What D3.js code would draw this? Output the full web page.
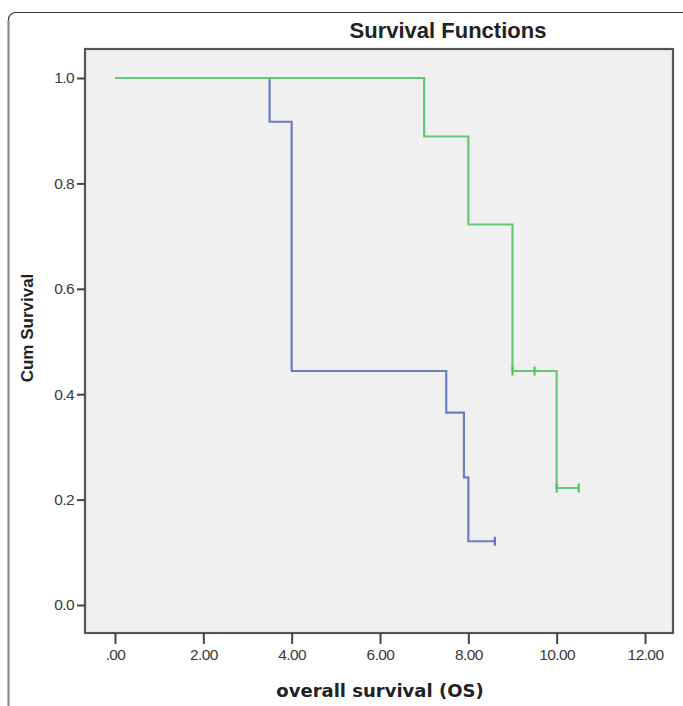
<!DOCTYPE html>
<html>
<head>
<meta charset="utf-8">
<script src="https://cdn.jsdelivr.net/npm/d3@7"></script>
<style>
  body { margin: 0; background: #fff; }
  svg { display: block; }
</style>
</head>
<body>
<script>
// data: Kaplan-Meier steps (time, cum survival) for the two groups
var blueTimes = [0, 3.5, 4.0, 7.5, 7.9, 8.0, 8.6];
var blueSurv = [1.0, 0.917, 0.444, 0.365, 0.242, 0.121, 0.121];
var blueCensorTimes = [8.6];
var blueCensorSurv = [0.121];

var greenTimes = [0, 7.0, 8.0, 9.0, 10.0, 10.5];
var greenSurv = [1.0, 0.889, 0.722, 0.444, 0.222, 0.222];
var greenCensorTimes = [9.0, 9.5, 10.0, 10.5];
var greenCensorSurv = [0.444, 0.444, 0.222, 0.222];

var xTicks = [0, 2, 4, 6, 8, 10, 12];
var yTicks = [0, 0.2, 0.4, 0.6, 0.8, 1.0];

// svg container
var width = 683;
var height = 706;

// plot frame
var frame = { left: 85, top: 49, right: 673, bottom: 633 };

var svg = d3.select("body").append("svg")
    .attr("width", width)
    .attr("height", height);

// outer rounded border (cropped on right and bottom)
svg.append("rect")
    .attr("x", 8.5)
    .attr("y", 12.5)
    .attr("width", 700)
    .attr("height", 720)
    .attr("rx", 7)
    .attr("fill", "none")
    .attr("stroke", "#333")
    .attr("stroke-width", 1.2);
svg.append("line")
    .attr("x1", 8.5).attr("x2", 8.5)
    .attr("y1", 20).attr("y2", height)
    .attr("stroke", "#888")
    .attr("stroke-width", 2);

// scales
var xScale = d3.scaleLinear()
    .domain([0, 12])
    .range([115, 645]);

var yScale = d3.scaleLinear()
    .domain([0, 1])
    .range([605, 78]);

// plot background
svg.append("rect")
    .attr("x", frame.left)
    .attr("y", frame.top)
    .attr("width", frame.right - frame.left)
    .attr("height", frame.bottom - frame.top)
    .attr("fill", "#f0f0f0")
    .attr("stroke", "#555")
    .attr("stroke-width", 2.2);

// axes
var xAxis = d3.axisBottom(xScale)
    .tickValues(xTicks)
    .tickSize(11)
    .tickPadding(5)
    .tickFormat(d => d === 0 ? ".00" : d3.format(".2f")(d));

var yAxis = d3.axisLeft(yScale)
    .tickValues(yTicks)
    .tickSize(8)
    .tickPadding(3)
    .tickFormat(d3.format(".1f"));

var xg = svg.append("g")
    .attr("transform", `translate(0, ${frame.bottom})`)
    .call(xAxis);

var yg = svg.append("g")
    .attr("transform", `translate(${frame.left}, 0)`)
    .call(yAxis);

[xg, yg].forEach(function(g) {
  g.select(".domain").remove();
  g.selectAll(".tick line").attr("stroke", "#444").attr("stroke-width", 2);
  g.selectAll(".tick text")
      .attr("fill", "#3a3a3a")
      .style("font-family", "'Liberation Sans', Arial, sans-serif")
      .style("font-size", "15.5px")
      .style("letter-spacing", "-0.6px");
});

// step lines
var line = d3.line()
    .x(d => xScale(d[0]))
    .y(d => yScale(d[1]))
    .curve(d3.curveStepAfter);

var blueData = blueTimes.map((t, i) => [t, blueSurv[i]]);
var greenData = greenTimes.map((t, i) => [t, greenSurv[i]]);

svg.append("path")
    .datum(blueData)
    .attr("d", line)
    .attr("fill", "none")
    .attr("stroke", "#6b7ec4")
    .attr("stroke-width", 2.2);

svg.append("path")
    .datum(greenData)
    .attr("d", line)
    .attr("fill", "none")
    .attr("stroke", "#63c973")
    .attr("stroke-width", 2.2);

// censor marks
function censors(times, surv, color) {
  svg.selectAll(null)
      .data(times.map((t, i) => [t, surv[i]]))
      .enter()
      .append("line")
      .attr("x1", d => xScale(d[0]))
      .attr("x2", d => xScale(d[0]))
      .attr("y1", d => yScale(d[1]) - 4.5)
      .attr("y2", d => yScale(d[1]) + 4.5)
      .attr("stroke", color)
      .attr("stroke-width", 2);
}
censors(blueCensorTimes, blueCensorSurv, "#5668b8");
censors(greenCensorTimes, greenCensorSurv, "#4fbf60");

// titles
svg.append("text")
    .attr("x", 448)
    .attr("y", 38)
    .attr("text-anchor", "middle")
    .style("font-family", "'Liberation Sans', Arial, sans-serif")
    .style("font-weight", "bold")
    .style("font-size", "22px")
    .attr("fill", "#222")
    .text("Survival Functions");

svg.append("text")
    .attr("x", 380)
    .attr("y", 697)
    .attr("text-anchor", "middle")
    .style("font-family", "'DejaVu Sans', sans-serif")
    .style("font-weight", "bold")
    .style("font-size", "18px")
    .attr("fill", "#222")
    .text("overall survival (OS)");

svg.append("text")
    .attr("transform", "translate(33, 328) rotate(-90)")
    .attr("text-anchor", "middle")
    .style("font-family", "'Liberation Sans', Arial, sans-serif")
    .style("font-weight", "bold")
    .style("font-size", "17px")
    .attr("fill", "#222")
    .text("Cum Survival");
</script>
</body>
</html>
